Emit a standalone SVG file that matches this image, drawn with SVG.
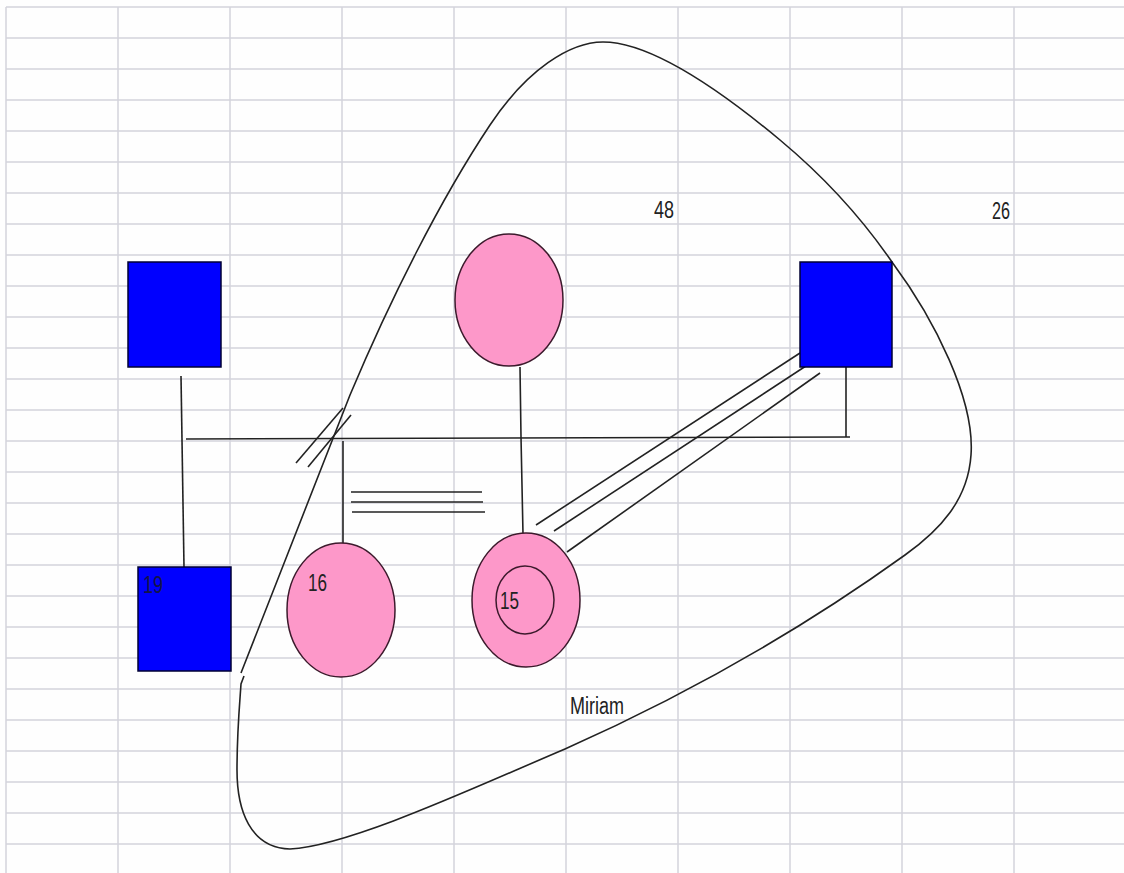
<svg xmlns="http://www.w3.org/2000/svg" width="1124" height="873" viewBox="0 0 1124 873">
<style>
.g{stroke:#d3d3dc;stroke-width:1.5}
.ln{stroke:#222;stroke-width:1.6;fill:none}
.sq{fill:#0000ff;stroke:#000033;stroke-width:1.5}
.ci{fill:#fd98c9;stroke:#3c1a2c;stroke-width:1.5}
.t{font-family:"Liberation Sans",Arial,sans-serif;font-size:23px;fill:#222}
.tn{font-family:"Liberation Sans",Arial,sans-serif;font-size:23px;fill:#14144a}
</style>
<rect width="1124" height="873" fill="#fefefe"/>
<g id="grid">
<path class="g" d="M6,7V873M118,7V873M230,7V873M342,7V873M454,7V873M566,7V873M678,7V873M790,7V873M902,7V873M1014,7V873"/>
<path class="g" d="M6,7H1124M6,38H1124M6,69H1124M6,100H1124M6,131H1124M6,162H1124M6,193H1124M6,224H1124M6,255H1124M6,286H1124M6,317H1124M6,348H1124M6,379H1124M6,410H1124M6,441H1124M6,472H1124M6,503H1124M6,534H1124M6,565H1124M6,596H1124M6,627H1124M6,658H1124M6,689H1124M6,720H1124M6,751H1124M6,782H1124M6,813H1124M6,844H1124"/>
</g>
<g id="connectors">
<line class="ln" x1="181" y1="376" x2="184" y2="567"/>
<line class="ln" x1="186" y1="439" x2="850" y2="437"/>
<line class="ln" x1="846" y1="367" x2="846" y2="437"/>
<polyline class="ln" points="520,367 521,437 523,534"/>
<line class="ln" x1="343" y1="441" x2="343" y2="543"/>
<line class="ln" x1="351" y1="492" x2="482" y2="492"/>
<line class="ln" x1="351" y1="502" x2="483" y2="502"/>
<line class="ln" x1="352" y1="512" x2="485" y2="512"/>
<line class="ln" x1="296" y1="463" x2="343" y2="408"/>
<line class="ln" x1="308" y1="467" x2="351" y2="415"/>
<line class="ln" x1="800" y1="353" x2="536" y2="525"/>
<line class="ln" x1="812" y1="362" x2="554" y2="531"/>
<line class="ln" x1="820" y1="373" x2="567" y2="552"/>
</g>
<g id="household">
<path class="ln" d="M241,673 L350,395 C390,300 440,200 490,125 C527,69.5 570,42 603,42 C650,42 720,90 780,140 C834,185 870,230 892,262 C935,320 975,400 971,455 C968,500 940,530 905,555 C830,609 720,680 565,749 C480,785 350,846 290,849 C250,848 237,810 237,770 C237,730 240,700 241,684 L244,676"/>
<text class="t" x="570" y="714" textLength="54" lengthAdjust="spacingAndGlyphs">Miriam</text>
</g>
<g id="label-48"><text class="t" x="654" y="218" textLength="20" lengthAdjust="spacingAndGlyphs">48</text></g>
<g id="label-26"><text class="t" x="992" y="219" textLength="18" lengthAdjust="spacingAndGlyphs">26</text></g>
<g id="node-male-1"><rect class="sq" x="128" y="262" width="93" height="105"/></g>
<g id="node-female-top"><ellipse class="ci" cx="509" cy="300" rx="54" ry="66"/></g>
<g id="node-male-2"><rect class="sq" x="800" y="262" width="92" height="105"/></g>
<g id="node-19"><rect class="sq" x="138" y="567" width="93" height="104"/><text class="tn" x="143" y="593" textLength="20" lengthAdjust="spacingAndGlyphs">19</text></g>
<g id="node-16"><ellipse class="ci" cx="341" cy="610" rx="54" ry="67"/><text class="t" x="308" y="591" textLength="19" lengthAdjust="spacingAndGlyphs">16</text></g>
<g id="node-15"><ellipse class="ci" cx="526" cy="600" rx="54" ry="67"/><ellipse class="ci" cx="525" cy="600" rx="29" ry="34"/><text class="t" x="500" y="609" textLength="19" lengthAdjust="spacingAndGlyphs">15</text></g>
</svg>
